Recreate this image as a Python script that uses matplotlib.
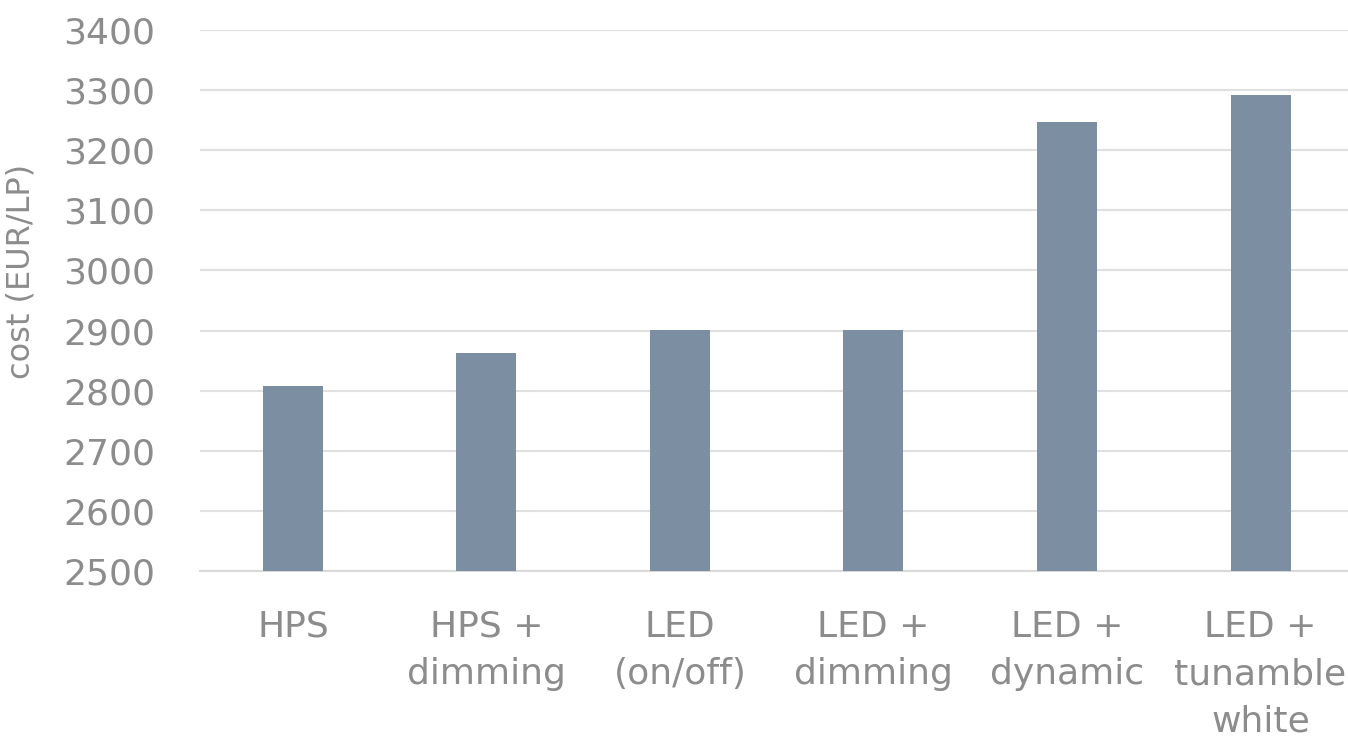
import matplotlib
matplotlib.use("Agg")
import matplotlib.pyplot as plt

categories = ["HPS", "HPS +\ndimming", "LED\n(on/off)", "LED +\ndimming",
              "LED +\ndynamic", "LED +\ntunamble\nwhite"]
costs = [2808, 2863, 2901, 2901, 3247, 3292]
yticks = [2500, 2600, 2700, 2800, 2900, 3000, 3100, 3200, 3300, 3400]

plt.rcParams['font.family'] = ['DejaVu Sans']
text_color = "#8c8c8c"
bar_color = "#7b8ea2"
grid_color = "#e0e0e0"

fig = plt.figure(figsize=(13.48, 7.40), dpi=100)
ax = fig.add_axes([200/1348, 1-571/740, 1-200/1348, (571-30)/740])

x = list(range(len(categories)))
ax.bar(x, costs, width=0.31, color=bar_color, zorder=3)

ax.set_ylim(2500, 3400)
ax.set_xlim(-0.48, 5.452)
ax.set_yticks(yticks)
ax.set_yticklabels([str(v) for v in yticks])
ax.set_xticks(x)
ax.set_xticklabels(categories, linespacing=1.5)

ax.yaxis.grid(True, color=grid_color, linewidth=1.5, zorder=0)
ax.set_axisbelow(True)
for s in ["top", "right", "left"]:
    ax.spines[s].set_visible(False)
ax.spines["bottom"].set_color("#d9d9d9")
ax.spines["bottom"].set_linewidth(1.5)

ax.tick_params(axis="y", length=0, pad=32, labelsize=26, labelcolor=text_color)
ax.tick_params(axis="x", length=0, pad=28, labelsize=26, labelcolor=text_color)

ax.set_ylabel("cost (EUR/LP)", fontsize=23, color=text_color)
ax.yaxis.set_label_coords(-(200-37)/1148, (571-271)/541)

fig.savefig("out.png", dpi=100)
